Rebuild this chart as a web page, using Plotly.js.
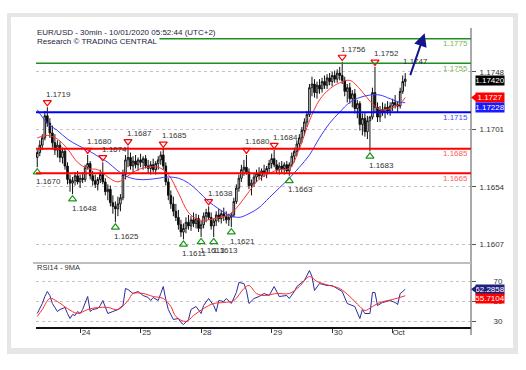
<!DOCTYPE html>
<html><head><meta charset="utf-8">
<script src="https://cdn.plot.ly/plotly-3.0.1.min.js"></script>
<style>html,body{margin:0;padding:0;background:#fff}#chart{width:526px;height:370px}</style>
</head><body><div id="chart"></div>
<script>
// ---- hourly OHLC (EUR/USD) ----
const openP = [1.1678,1.1682,1.1688,1.1694,1.1712,1.1706,1.1698,1.1690,1.1684,1.1688,
1.1678,1.1683,1.1671,1.1660,1.1657,1.1659,1.1663,1.1658,1.1661,1.1660,
1.1670,1.1673,1.1663,1.1659,1.1656,1.1660,1.1664,1.1658,1.1650,1.1652,
1.1641,1.1638,1.1636,1.1640,1.1645,1.1664,1.1676,1.1678,1.1671,1.1675,
1.1672,1.1676,1.1674,1.1677,1.1671,1.1669,1.1672,1.1668,1.1673,1.1676,
1.1680,1.1671,1.1658,1.1647,1.1640,1.1634,1.1629,1.1623,1.1617,1.1620,
1.1625,1.1622,1.1627,1.1624,1.1628,1.1620,1.1623,1.1630,1.1633,1.1629,
1.1622,1.1626,1.1631,1.1628,1.1632,1.1630,1.1627,1.1629,1.1631,1.1642,
1.1653,1.1661,1.1668,1.1670,1.1666,1.1655,1.1657,1.1662,1.1665,1.1663,
1.1667,1.1665,1.1669,1.1673,1.1677,1.1672,1.1668,1.1671,1.1669,1.1672,
1.1667,1.1672,1.1679,1.1683,1.1689,1.1694,1.1700,1.1707,1.1713,1.1735,
1.1738,1.1731,1.1737,1.1734,1.1740,1.1737,1.1743,1.1740,1.1745,1.1742,
1.1747,1.1745,1.1741,1.1732,1.1735,1.1726,1.1730,1.1718,1.1722,1.1705,
1.1710,1.1699,1.1708,1.1711,1.1731,1.1719,1.1711,1.1717,1.1715,1.1719,
1.1716,1.1720,1.1723,1.1721,1.1720,1.1732,1.1740];
const highP = [1.1684,1.1692,1.1697,1.1716,1.1719,1.1710,1.1704,1.1697,1.1692,1.1691,
1.1686,1.1685,1.1674,1.1664,1.1662,1.1666,1.1667,1.1664,1.1666,1.1672,
1.1680,1.1675,1.1667,1.1664,1.1662,1.1668,1.1674,1.1661,1.1656,1.1655,
1.1647,1.1642,1.1646,1.1648,1.1668,1.1680,1.1687,1.1682,1.1679,1.1680,
1.1678,1.1681,1.1679,1.1680,1.1676,1.1675,1.1677,1.1675,1.1679,1.1683,
1.1685,1.1674,1.1661,1.1651,1.1646,1.1640,1.1635,1.1627,1.1624,1.1629,
1.1631,1.1630,1.1633,1.1632,1.1631,1.1626,1.1633,1.1636,1.1638,1.1633,
1.1628,1.1634,1.1636,1.1635,1.1637,1.1634,1.1632,1.1633,1.1645,1.1656,
1.1664,1.1672,1.1676,1.1680,1.1669,1.1660,1.1665,1.1668,1.1670,1.1669,
1.1672,1.1671,1.1676,1.1681,1.1684,1.1676,1.1674,1.1675,1.1674,1.1675,
1.1674,1.1682,1.1686,1.1692,1.1697,1.1703,1.1710,1.1716,1.1738,1.1744,
1.1742,1.1740,1.1742,1.1743,1.1745,1.1746,1.1747,1.1748,1.1749,1.1750,
1.1752,1.1756,1.1744,1.1738,1.1739,1.1733,1.1734,1.1725,1.1724,1.1714,
1.1715,1.1712,1.1712,1.1735,1.1752,1.1723,1.1720,1.1723,1.1722,1.1724,
1.1723,1.1726,1.1729,1.1724,1.1735,1.1745,1.1747];
const lowP = [1.1670,1.1679,1.1684,1.1692,1.1703,1.1694,1.1686,1.1680,1.1678,1.1674,
1.1673,1.1668,1.1656,1.1650,1.1648,1.1655,1.1656,1.1653,1.1657,1.1658,
1.1668,1.1660,1.1655,1.1653,1.1651,1.1657,1.1656,1.1647,1.1643,1.1638,
1.1632,1.1625,1.1630,1.1634,1.1643,1.1660,1.1670,1.1668,1.1666,1.1669,
1.1667,1.1670,1.1668,1.1669,1.1665,1.1664,1.1666,1.1664,1.1668,1.1672,
1.1668,1.1655,1.1643,1.1636,1.1630,1.1626,1.1619,1.1613,1.1611,1.1616,
1.1619,1.1618,1.1621,1.1620,1.1617,1.1613,1.1620,1.1625,1.1627,1.1619,
1.1613,1.1622,1.1625,1.1624,1.1626,1.1624,1.1622,1.1621,1.1629,1.1640,
1.1650,1.1658,1.1663,1.1664,1.1652,1.1647,1.1654,1.1658,1.1660,1.1659,
1.1662,1.1661,1.1665,1.1669,1.1670,1.1665,1.1664,1.1665,1.1664,1.1665,
1.1663,1.1670,1.1674,1.1679,1.1684,1.1690,1.1696,1.1703,1.1711,1.1728,
1.1727,1.1726,1.1730,1.1731,1.1734,1.1734,1.1737,1.1736,1.1739,1.1739,
1.1741,1.1738,1.1728,1.1723,1.1722,1.1719,1.1714,1.1710,1.1700,1.1696,
1.1695,1.1693,1.1683,1.1709,1.1715,1.1707,1.1707,1.1712,1.1710,1.1713,
1.1712,1.1716,1.1718,1.1715,1.1718,1.1730,1.1736];
const closeP = [1.1682,1.1688,1.1694,1.1712,1.1706,1.1698,1.1690,1.1684,1.1688,1.1678,
1.1683,1.1671,1.1660,1.1657,1.1659,1.1663,1.1658,1.1661,1.1660,1.1670,
1.1673,1.1663,1.1659,1.1656,1.1660,1.1664,1.1658,1.1650,1.1652,1.1641,
1.1638,1.1636,1.1640,1.1645,1.1664,1.1676,1.1678,1.1671,1.1675,1.1672,
1.1676,1.1674,1.1677,1.1671,1.1669,1.1672,1.1668,1.1673,1.1676,1.1680,
1.1671,1.1658,1.1647,1.1640,1.1634,1.1629,1.1623,1.1617,1.1620,1.1625,
1.1622,1.1627,1.1624,1.1628,1.1620,1.1623,1.1630,1.1633,1.1629,1.1622,
1.1626,1.1631,1.1628,1.1632,1.1630,1.1627,1.1629,1.1631,1.1642,1.1653,
1.1661,1.1668,1.1670,1.1666,1.1655,1.1657,1.1662,1.1665,1.1663,1.1667,
1.1665,1.1669,1.1673,1.1677,1.1672,1.1668,1.1671,1.1669,1.1672,1.1667,
1.1672,1.1679,1.1683,1.1689,1.1694,1.1700,1.1707,1.1713,1.1735,1.1738,
1.1731,1.1737,1.1734,1.1740,1.1737,1.1743,1.1740,1.1745,1.1742,1.1747,
1.1745,1.1741,1.1732,1.1735,1.1726,1.1730,1.1718,1.1722,1.1705,1.1710,
1.1699,1.1708,1.1711,1.1731,1.1719,1.1711,1.1717,1.1715,1.1719,1.1716,
1.1720,1.1723,1.1721,1.1720,1.1732,1.1740,1.1742];

// ---- moving averages on price ----
const maIdx = [0,4,8,12,16,20,24,28,32,36,40,44,48,52,56,60,64,68,72,76,80,84,88,92,96,100,104,108,112,116,120,124,128,132,136,140,144,146];
const redMa = [1.1694,1.1696,1.1693,1.1685,1.1674,1.1669,1.1668,1.1662,1.1658,1.1663,
1.1668,1.1670,1.1670,1.1664,1.1649,1.1633,1.1627,1.1627,1.1629,1.1631,
1.1639,1.1650,1.1660,1.1665,1.1668,1.1669,1.1685,1.1708,1.1725,1.1734,
1.1739,1.1741,1.1734,1.1724,1.1717,1.1718,1.1722,1.1727];
const blueMa = [1.1717,1.1706,1.1700,1.1693,1.1688,1.1684,1.1679,1.1674,1.1667,1.1662,
1.1660,1.1660,1.1661,1.1662,1.1661,1.1657,1.1650,1.1642,1.1636,1.1631,
1.1629,1.1632,1.1637,1.1645,1.1653,1.1661,1.1670,1.1680,1.1694,1.1706,
1.1715,1.1723,1.1727,1.1729,1.1729,1.1726,1.1723,1.17228];

// ---- swing highs / lows ----
const hiIdx = [4,20,26,36,50,68,83,94,121,134];
const hiVal = [1.1719,1.1680,1.1674,1.1687,1.1685,1.1638,1.1680,1.1684,1.1756,1.1752];
const hiTxt = ['1.1719','1.1680','1.1674','1.1687','1.1685','1.1638','1.1680','1.1684','1.1756','1.1752'];
const loIdx = [0,14,31,58,65,70,77,100,132];
const loVal = [1.1670,1.1648,1.1625,1.1611,1.1613,1.1613,1.1621,1.1663,1.1683];
const loTxt = ['1.1670','1.1648','1.1625','1.1611','1.1613','1.1613','1.1621','1.1663','1.1683'];
const lastHiIdx = 146, lastHiVal = 1.1747, lastHiTxt = '1.1747';

// ---- key levels ----
const levels = [1.1775,1.1755,1.1715,1.1685,1.1665];
const levelTxt = ['1.1775','1.1755','1.1715','1.1685','1.1665'];
const levelKind = ['res','res','pivot','sup','sup'];

// ---- forecast arrow ----
const fcIdx = [147.8,153.7];
const fcVal = [1.1744,1.17795];

// ---- price tags ----
const lastClose = 1.17420, redMaLast = 1.1727, blueMaLast = 1.17228;

// ---- RSI14 and its 9MA ----
const rsiIdx = [0,1,2,3,4,5,6,7,8,9,11,12,13,14,15,16,17,18,19,20,21,22,24,25,26,27,28,30,32,34,35,36,38,40,42,44,45,46,48,49,50,51,52,54,56,57,58,60,61,63,65,66,68,70,71,72,74,75,77,79,80,82,83,84,86,88,90,92,94,96,99,100,102,103,106,108,109,110,112,115,117,119,121,123,125,126,128,129,130,132,133,134,135,137,140,142,143,144,145,146];
const rsiVal = [38,43,48,55,60,56,48,44,40,42,44,38,33,37,36,40,38,42,48,55,40,42,43,46,51,44,38,40,42,46,63,62,58,60,56,54,51,54,51,58,65,52,42,32,33,29,27,32,42,45,38,46,53,46,40,51,50,53,48,59,69,68,61,48,53,55,58,56,65,55,56,53,60,65,71,81,75,61,68,66,66,63,60,48,46,45,33,42,38,38,59,59,46,49,51,49,47,58,60,62.2858];
const rsiMaIdx = [0,2,5,8,12,16,20,24,28,32,36,38,42,46,50,53,55,59,62,66,70,74,78,82,84,87,90,95,100,104,108,111,116,120,124,128,130,133,136,141,146];
const rsiMaVal = [35,42,53,50,43,38,42,44,44,42,51,58,58,55,53,45,35,30,36,43,48,49,51,63,66,58,56,58,58,65,75,70,66,63,55,45,41,45,49,52,55.7104];

// ---- axis ticks ----
const priceTicks = [1.1607,1.1654,1.1701,1.1748];
const rsiTicks = [30,50,70];
const dayTickIdx = [17,41,65,93,117,141];
const dayTickTxt = ['24','25','28','29','30','Oct'];

const W = 526, H = 370;
const px = v => v / W, py = v => 1 - v / H;
const FONT = 'Liberation Sans, Arial, sans-serif';

const barIdx = closeP.map((_, i) => i);

const traces = [
  {type:'candlestick', x:barIdx, open:openP, high:highP, low:lowP, close:closeP,
   xaxis:'x', yaxis:'y', whiskerwidth:0, hoverinfo:'none',
   increasing:{line:{color:'#111', width:1}, fillcolor:'#ffffff'},
   decreasing:{line:{color:'#111', width:1}, fillcolor:'#000000'}},
  {type:'scatter', mode:'lines', x:maIdx, y:redMa, xaxis:'x', yaxis:'y',
   line:{color:'#ff3333', width:1, shape:'spline'}, hoverinfo:'none'},
  {type:'scatter', mode:'lines', x:maIdx, y:blueMa, xaxis:'x', yaxis:'y',
   line:{color:'#3a3aff', width:1, shape:'spline'}, hoverinfo:'none'},
  {type:'scatter', mode:'markers', x:hiIdx, y:hiVal, xaxis:'x', yaxis:'y', cliponaxis:false,
   marker:{symbol:'triangle-up-open', angle:180, standoff:5, size:7, color:'#ff0000', line:{width:1.2}}, hoverinfo:'none'},
  {type:'scatter', mode:'markers', x:loIdx, y:loVal, xaxis:'x', yaxis:'y', cliponaxis:false,
   marker:{symbol:'triangle-up-open', angle:0, standoff:5, size:7, color:'#1e961e', line:{width:1.2}}, hoverinfo:'none'},
  {type:'scatter', mode:'lines', x:rsiIdx, y:rsiVal, xaxis:'x', yaxis:'y2',
   line:{color:'#2b2ba0', width:1}, hoverinfo:'none'},
  {type:'scatter', mode:'lines', x:rsiMaIdx, y:rsiMaVal, xaxis:'x', yaxis:'y2',
   line:{color:'#ff2a2a', width:1, shape:'spline'}, hoverinfo:'none'}
];

const lvlLine = {res:'#1f8f1f', pivot:'#0000ff', sup:'#ff0000'};
const lvlText = {res:'#77b955', pivot:'#4646ff', sup:'#ff5a5a'};
const lvlWidth = {res:1.5, pivot:2, sup:2};

const shapes = [
  {type:'rect', xref:'paper', yref:'paper', x0:px(7), x1:px(518), y0:py(354), y1:py(13),
   fillcolor:'#e6e6e6', line:{width:0}, layer:'below'},
  {type:'rect', xref:'paper', yref:'paper', x0:px(11), x1:px(513), y0:py(348), y1:py(17),
   fillcolor:'#ffffff', line:{width:0}, layer:'below'},
  {type:'line', xref:'paper', yref:'paper', x0:px(471), x1:px(471), y0:py(335), y1:py(28),
   line:{color:'#555', width:1}},
  {type:'line', xref:'paper', yref:'paper', x0:px(33), x1:px(471), y0:py(263), y1:py(263),
   line:{color:'#bdbdbd', width:2}}
];
levels.forEach((v, k) => {
  shapes.push({type:'line', xref:'x domain', yref:'y', x0:0, x1:1, y0:v, y1:v,
    line:{color:lvlLine[levelKind[k]], width:lvlWidth[levelKind[k]]}, layer:'above'});
});

const annotations = [
  {xref:'paper', yref:'paper', x:px(35), y:py(33), xanchor:'left', yanchor:'middle', showarrow:false,
   text:'EUR/USD - 30min - 10/01/2020 05:52:44 (UTC+2)', font:{family:FONT, size:8, color:'#1c1c40'}},
  {xref:'paper', yref:'paper', x:px(35), y:py(42), xanchor:'left', yanchor:'middle', showarrow:false,
   text:'Research © TRADING CENTRAL', bgcolor:'#ffffff', borderpad:1, font:{family:FONT, size:8, color:'#1c1c40'}},
  {xref:'paper', yref:'paper', x:px(35), y:py(267), xanchor:'left', yanchor:'middle', showarrow:false,
   text:'RSI14 - 9MA', font:{family:FONT, size:7.5, color:'#333'}}
];
levels.forEach((v, k) => {
  annotations.push({xref:'x domain', yref:'y', x:1, y:v, xanchor:'right', yanchor:'middle', xshift:-1, yshift:-5,
    showarrow:false, text:levelTxt[k], font:{family:FONT, size:8, color:lvlText[levelKind[k]]}});
});
hiIdx.forEach((ix, k) => {
  annotations.push({xref:'x', yref:'y', x:ix, y:hiVal[k], xanchor:'left', yanchor:'middle', xshift:-3, yshift:13,
    showarrow:false, text:hiTxt[k], font:{family:FONT, size:8, color:'#333'}});
});
loIdx.forEach((ix, k) => {
  annotations.push({xref:'x', yref:'y', x:ix, y:loVal[k], xanchor:'left', yanchor:'middle', xshift:-3, yshift:-14,
    showarrow:false, text:loTxt[k], font:{family:FONT, size:8, color:'#333'}});
});
annotations.push({xref:'x', yref:'y', x:lastHiIdx, y:lastHiVal, xanchor:'left', yanchor:'middle', xshift:-4, yshift:12,
  showarrow:false, text:lastHiTxt, font:{family:FONT, size:8, color:'#333'}});
annotations.push({xref:'x', yref:'y', axref:'x', ayref:'y', x:fcIdx[1], y:fcVal[1], ax:fcIdx[0], ay:fcVal[0],
  text:'', showarrow:true, arrowhead:2, arrowsize:1.3, arrowwidth:2, arrowcolor:'#14148c'});

function tag(yref, val, txt, bg, arrow, yshift) {
  annotations.push({xref:'paper', yref:yref, x:px(490), y:val, xanchor:'center', yanchor:'middle', yshift:yshift,
    showarrow:false, text:txt, bgcolor:bg, width:28, height:9, borderpad:0,
    font:{family:FONT, size:8, color:'#ffffff'}});
  if (arrow) {
    shapes.push({type:'path', xref:'paper', yref:yref, xsizemode:'pixel', ysizemode:'pixel',
      xanchor:px(471), yanchor:val, path:'M0,0 L6,4.5 L6,-4.5 Z', fillcolor:bg, line:{width:0}});
  }
}
tag('y', lastClose, '1.17420', '#000000', false, -1);
tag('y', redMaLast, '1.1727', '#ff0000', true, 0);
tag('y', blueMaLast, '1.17228', '#1a1aff', false, -4.5);
tag('y2', rsiVal[rsiVal.length - 1], '62.2858', '#202080', true, 0);
tag('y2', rsiMaVal[rsiMaVal.length - 1], '55.7104', '#ff0000', false, -2.5);

const layout = {
  width:W, height:H, margin:{l:0, r:0, t:0, b:0},
  paper_bgcolor:'#ffffff', plot_bgcolor:'rgba(0,0,0,0)',
  showlegend:false, hovermode:false, boxgap:0.1,
  font:{family:FONT, size:8, color:'#333'},
  xaxis:{domain:[px(36), px(471)], range:[-0.5, 172.1], anchor:'y2',
    rangeslider:{visible:false}, showgrid:false, zeroline:false,
    showline:true, linecolor:'#111', linewidth:1.5,
    ticks:'outside', ticklen:4, tickcolor:'#333',
    tickvals:dayTickIdx, ticktext:dayTickTxt, ticklabelshift:6, ticklabelstandoff:-7,
    tickfont:{family:FONT, size:8, color:'#333'}},
  yaxis:{domain:[py(258), py(28)], range:[1.15958, 1.17838], side:'right', anchor:'x',
    tickvals:priceTicks, ticktext:priceTicks.map(v => v.toFixed(4)),
    showgrid:true, gridcolor:'#c4c4c4', griddash:'dot', gridwidth:1, zeroline:false, showline:false,
    ticks:'outside', ticklen:4, tickcolor:'#555', ticklabelstandoff:2,
    tickfont:{family:FONT, size:8, color:'#333'}},
  yaxis2:{domain:[py(327), py(263)], range:[24.5, 88.5], side:'right', anchor:'x',
    tickvals:rsiTicks, ticktext:rsiTicks.map(String),
    showgrid:true, gridcolor:'#c4c4c4', griddash:'dot', gridwidth:1, zeroline:false, showline:false,
    ticks:'outside', ticklen:4, tickcolor:'#555', ticklabelstandoff:16,
    tickfont:{family:FONT, size:8, color:'#333'}},
  shapes:shapes, annotations:annotations
};

Plotly.newPlot('chart', traces, layout, {staticPlot:true, displayModeBar:false});
</script>
</body></html>
